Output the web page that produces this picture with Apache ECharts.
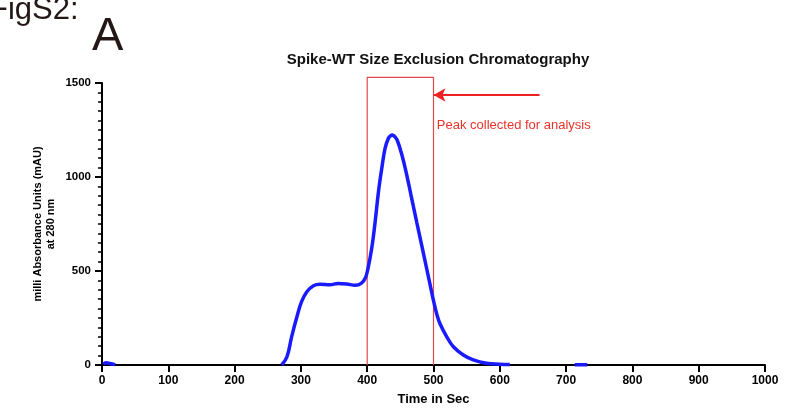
<!DOCTYPE html>
<html>
<head>
<meta charset="utf-8">
<title>Spike-WT Size Exclusion Chromatography</title>
<script src="https://cdn.jsdelivr.net/npm/echarts@6/dist/echarts.min.js"></script>
<style>
  html, body { margin: 0; padding: 0; background: #ffffff; }
  #chart { width: 794px; height: 418px; }
</style>
</head>
<body>
<div id="chart"></div>
<script>
// Elution profile: time (s) and absorbance at 280 nm (mAU). null breaks the trace.
var timeSec = [2, 6, 12, 20, 150,
  271, 279, 286, 294, 301, 309, 319, 329, 344, 356, 369, 382, 391, 397,
  401, 407, 412, 417, 422, 427, 432, 435, 438, 441, 445, 452, 460, 467, 475, 482,
  490, 495, 500, 505, 510, 520, 530, 545, 560, 580, 600, 615, 660, 713, 732];
var absorbance = [4, 12, 8, 2, null,
  0, 44, 150, 257, 337, 390, 422, 429, 427, 434, 431, 424, 434, 461,
  510, 625, 762, 922, 1046, 1153, 1206, 1219, 1224, 1217, 1198, 1122, 1005, 888, 755, 640,
  508, 425, 342, 270, 218, 150, 97, 53, 27, 9, 4, 2, null, 1, 1];

// Axis ticks
var xTicks = { min: 0, max: 1000, interval: 100 };
var yTicks = { min: 0, max: 1500, interval: 500 };

// Collected fraction window and annotation
var collectedWindow = [400, 500];
var windowTop = 1530;
var arrowFrom = [660, 1436];
var arrowTo = [500, 1436];
var noteAt = [505, 1276];
var noteText = 'Peak collected for analysis';

var chartTitle = 'Spike-WT Size Exclusion Chromatography';
var xName = 'Time in Sec';
var yName = 'milli Absorbance Units (mAU)\nat 280 nm';

var points = timeSec.map(function (t, i) { return [t, absorbance[i]]; });
// Outline of the collected window, open at the baseline
var windowOutline = [
  [collectedWindow[0], 0], [collectedWindow[0], windowTop],
  [collectedWindow[1], windowTop], [collectedWindow[1], 0]
];

var FONT = '"Liberation Sans", Arial, Helvetica, sans-serif';
var plainNumber = function (v) { return String(v); };
var chart = echarts.init(document.getElementById('chart'), null, { renderer: 'canvas' });

chart.setOption({
  animation: false,
  backgroundColor: '#ffffff',
  title: {
    text: chartTitle,
    left: 433,
    textAlign: 'center',
    top: 47,
    textStyle: { fontFamily: FONT, fontSize: 15, fontWeight: 'bold', color: '#111111' }
  },
  graphic: [
    {
      type: 'text', left: -11, top: -5,
      style: { text: 'FigS2:', fontFamily: FONT, fontSize: 31, fill: '#231815' }
    },
    {
      type: 'text', left: 92, top: 14,
      style: { text: 'A', fontFamily: FONT, fontSize: 47, fill: '#231815' }
    }
  ],
  grid: { left: 102, right: 29, top: 83, bottom: 53 },
  xAxis: {
    type: 'value',
    min: xTicks.min, max: xTicks.max, interval: xTicks.interval,
    name: xName,
    nameLocation: 'middle',
    nameGap: 28,
    nameTextStyle: { fontFamily: FONT, fontSize: 13, fontWeight: 'bold', color: '#000000' },
    axisLine: { show: true, onZero: false, lineStyle: { color: '#000000', width: 2 } },
    axisTick: { show: true, length: 7, lineStyle: { color: '#000000', width: 2 } },
    axisLabel: { fontFamily: FONT, fontSize: 12, fontWeight: 'bold', color: '#000000', margin: 10, formatter: plainNumber },
    splitLine: { show: false }
  },
  yAxis: {
    type: 'value',
    min: yTicks.min, max: yTicks.max, interval: yTicks.interval,
    name: yName,
    nameLocation: 'middle',
    nameGap: 45,
    nameMoveOverlap: false,
    nameRotate: 90,
    nameTextStyle: { fontFamily: FONT, fontSize: 11, fontWeight: 'bold', color: '#000000', lineHeight: 13 },
    axisLine: { show: true, lineStyle: { color: '#000000', width: 2 } },
    axisTick: { show: true, length: 7, lineStyle: { color: '#000000', width: 2 } },
    minorTick: { show: true, splitNumber: 10, length: 4, lineStyle: { color: '#000000', width: 1.5 } },
    axisLabel: { fontFamily: FONT, fontSize: 11.5, fontWeight: 'bold', color: '#000000', margin: 11, formatter: plainNumber },
    splitLine: { show: false }
  },
  series: [
    {
      // collected window outline
      type: 'line',
      data: windowOutline,
      clip: false,
      silent: true,
      showSymbol: false,
      symbol: 'none',
      lineStyle: { color: '#e0484a', width: 1.2 },
      z: 2
    },
    {
      type: 'line',
      data: points,
      smooth: 0.4,
      connectNulls: false,
      clip: false,
      showSymbol: false,
      symbol: 'none',
      lineStyle: { color: '#1a1aff', width: 3.5 },
      z: 3,
      markLine: {
        silent: true,
        symbol: ['none', 'arrow'],
        symbolSize: [10, 12],
        label: { show: false },
        lineStyle: { color: '#ee2222', width: 2, type: 'solid' },
        data: [[{ coord: arrowFrom }, { coord: arrowTo }]]
      },
      markPoint: {
        silent: true,
        symbol: 'circle',
        symbolSize: 0,
        data: [{
          coord: noteAt,
          label: {
            show: true, position: 'right', distance: 0,
            formatter: noteText,
            fontFamily: FONT, fontSize: 13, color: '#e8332b'
          }
        }]
      }
    }
  ]
});
</script>
</body>
</html>
